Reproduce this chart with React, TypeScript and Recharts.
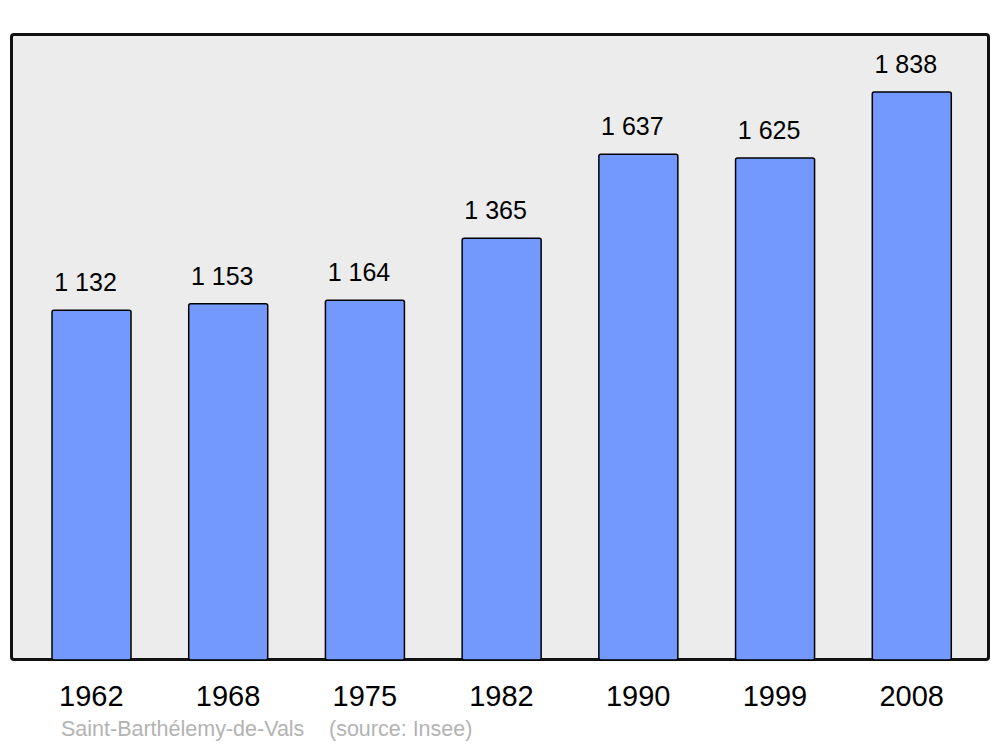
import { BarChart, Bar, XAxis, YAxis, LabelList } from 'recharts';

const years = ['1962', '1968', '1975', '1982', '1990', '1999', '2008'];
const population = [1132, 1153, 1164, 1365, 1637, 1625, 1838];

const data = years.map((year, i) => ({ year, population: population[i] }));

const formatPop = (v: number) =>
  String(v).replace(/\B(?=(\d{3})+(?!\d))/g, ' ');

export default function App() {
  return (
    <div
      style={{
        position: 'absolute',
        left: 0,
        top: 0,
        width: 1000,
        height: 747,
        background: '#ffffff',
        fontFamily: '"Liberation Sans", Arial, sans-serif',
      }}
    >
      {/* plot frame */}
      <div
        style={{
          position: 'absolute',
          left: 10,
          top: 33,
          width: 974,
          height: 622,
          border: '3px solid #111',
          borderRadius: 4,
          background: '#ececec',
        }}
      />
      <div style={{ position: 'absolute', left: 0, top: 0 }}>
        <BarChart
          width={1000}
          height={747}
          data={data}
          margin={{ top: 34, right: 20, bottom: 57, left: 23 }}
        >
          <XAxis
            dataKey="year"
            height={30}
            axisLine={false}
            tickLine={false}
            tickSize={0}
            tickMargin={25}
            tick={{ fill: '#000', fontSize: 29 }}
            interval={0}
          />
          <YAxis hide domain={[0, 2026]} />
          <Bar
            dataKey="population"
            fill="#7399ff"
            stroke="#000"
            strokeWidth={1.5}
            barSize={79}
            radius={2}
            isAnimationActive={false}
          >
            <LabelList
              dataKey="population"
              position="top"
              offset={19}
              dx={-6}
              formatter={(v: any) => formatPop(Number(v))}
              style={{ fill: '#000', fontSize: 25 }}
            />
          </Bar>
        </BarChart>
      </div>
      <div
        style={{
          position: 'absolute',
          left: 61,
          top: 717,
          fontSize: 21.5,
          color: '#b3b3b3',
          whiteSpace: 'pre',
        }}
      >
        Saint-Barthélemy-de-Vals
      </div>
      <div
        style={{
          position: 'absolute',
          left: 329,
          top: 717,
          fontSize: 21.5,
          color: '#b3b3b3',
          whiteSpace: 'pre',
        }}
      >
        (source: Insee)
      </div>
    </div>
  );
}
